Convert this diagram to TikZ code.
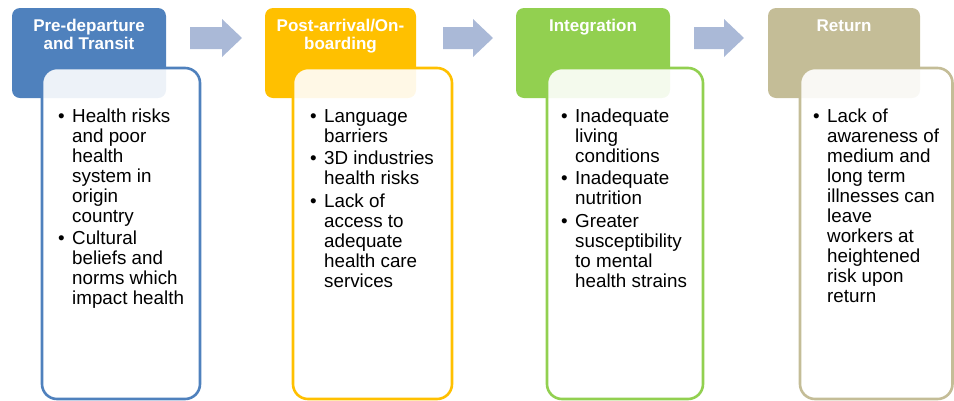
\documentclass[tikz,border=0pt]{standalone}
\usepackage{fontspec}
\setmainfont{Liberation Sans}
\usepackage{array}
\definecolor{cblue}{HTML}{4F81BD}
\definecolor{corange}{HTML}{FFC000}
\definecolor{cgreen}{HTML}{92D050}
\definecolor{ctan}{HTML}{C4BD97}
\definecolor{carrow}{HTML}{AAB9D7}
\tikzset{
  headbox/.style={rounded corners=8pt},
  bodybox/.style={rounded corners=15pt, line width=2.6pt, fill=white, fill opacity=0.9},
  headtext/.style={anchor=base, inner sep=0pt, text=white,
     font=\fontsize{17}{17.5}\selectfont\bfseries},
  bodytext/.style={anchor=base west, inner sep=0pt, text=black,
     font=\fontsize{18.8}{20}\selectfont},
  arrowshape/.style={fill=carrow}
}
\newcommand{\blist}[1]{\begin{tabular}[t]{@{}p{14pt}@{}l@{}}#1\end{tabular}}
\newcommand{\hlines}[1]{\begin{tabular}[t]{@{}c@{}}#1\end{tabular}}
\begin{document}
\begin{tikzpicture}[x=1pt,y=-1pt]
\useasboundingbox (0,0) rectangle (954,400);
% headers
\fill[headbox, cblue]   (12,8) rectangle (166,98);
\fill[headbox, corange] (265,8) rectangle (416,98);
\fill[headbox, cgreen]  (516,8) rectangle (670,98);
\fill[headbox, ctan]    (768,8) rectangle (920,98);
\node[headtext] (h1) at (89,31.5) {\hlines{Pre-departure\\and Transit}};
\node[headtext] (h2) at (340.5,31.5) {\hlines{Post-arrival/On-\\boarding}};
\node[headtext] (h3) at (593,31.5) {\hlines{Integration}};
\node[headtext] (h4) at (844,31.5) {\hlines{Return}};
% arrows
\fill[arrowshape] (190,27) -- (222,27) -- (222,19) -- (242,38) -- (222,57) -- (222,49) -- (190,49) -- cycle;
\fill[arrowshape] (443,27) -- (473,27) -- (473,19) -- (493,38) -- (473,57) -- (473,49) -- (443,49) -- cycle;
\fill[arrowshape] (694,27) -- (724,27) -- (724,19) -- (744,38) -- (724,57) -- (724,49) -- (694,49) -- cycle;
% body boxes
\draw[bodybox, draw=cblue]   (42,68) rectangle (200,399);
\draw[bodybox, draw=corange] (293,68) rectangle (452,399);
\draw[bodybox, draw=cgreen]  (547,68) rectangle (703,399);
\draw[bodybox, draw=ctan]    (800,68) rectangle (952.5,399);
% body texts
\node[bodytext] (b1) at (58,122) {\blist{%
  • & Health risks\\ & and poor\\ & health\\ & system in\\ & origin\\ & country\\[2pt]
  • & Cultural\\ & beliefs and\\ & norms which\\ & impact health}};
\node[bodytext] (b2) at (310,122) {\blist{%
  • & Language\\ & barriers\\[2.5pt]
  • & 3D industries\\ & health risks\\[2.5pt]
  • & Lack of\\ & access to\\ & adequate\\ & health care\\ & services}};
\node[bodytext] (b3) at (561,122) {\blist{%
  • & Inadequate\\ & living\\ & conditions\\[2.5pt]
  • & Inadequate\\ & nutrition\\[2.5pt]
  • & Greater\\ & susceptibility\\ & to mental\\ & health strains}};
\node[bodytext] (b4) at (813,122) {\blist{%
  • & Lack of\\ & awareness of\\ & medium and\\ & long term\\ & illnesses can\\ & leave\\ & workers at\\ & heightened\\ & risk upon\\ & return}};
\end{tikzpicture}
\end{document}
